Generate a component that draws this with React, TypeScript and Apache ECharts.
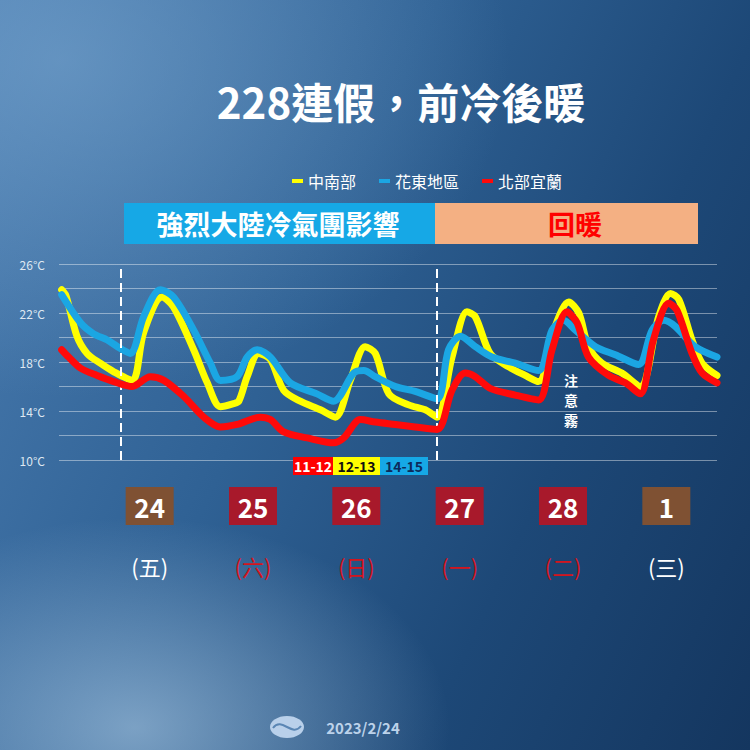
import React, { useEffect, useRef } from "react";
import * as echarts from "echarts";

const FONT = '"Noto Sans CJK TC", "Noto Sans", sans-serif';

const TITLE = "228連假，前冷後暖";
const SERIES_NAMES = ["中南部", "花東地區", "北部宜蘭"];
const SERIES_COLORS = ["#ffff00", "#1ba6e3", "#ff0a0a"];

// x = hours from 2/24 00:00, y = °C
const central: number[][] = [
  [-13.4, 23.9], [-12.4, 23.4], [-9.9, 20.1], [-7.6, 18.7], [-4.6, 17.9], [-1.5, 17.2],
  [2.7, 16.5], [5.3, 20.4], [9.5, 23.3], [12.1, 22.5], [16.7, 19.0], [19.8, 16.3],
  [22.8, 14.35], [25.8, 14.6], [27, 14.8], [28.9, 16.8], [31.5, 18.7], [34.2, 18.2],
  [37.2, 15.7], [41, 14.8], [45.6, 14.1], [49, 13.5], [52.4, 16.5], [55.8, 19.25],
  [58.1, 18.7], [61.2, 15.4], [65.7, 14.5], [69.5, 14.1], [72.2, 13.5], [75.6, 18.4],
  [79, 22.1], [80.9, 21.7], [84.3, 18.7], [88.5, 17.6], [92.3, 16.9], [95.3, 16.4],
  [99.1, 20.9], [102.2, 22.9], [104.5, 22.0], [106.7, 19.25], [109.8, 17.9], [114.3, 17.1],
  [118.5, 16.0], [122.7, 21.7], [125.4, 23.6], [127.3, 23.1], [130.3, 19.8], [132.6, 17.9],
  [136, 16.9],
];
const east: number[][] = [
  [-13.4, 23.5], [-9.1, 21.2], [-6.1, 20.3], [-3, 19.8], [0, 19.1], [2.3, 18.7],
  [5.3, 21.7], [9.1, 23.9], [12.1, 23.3], [16.7, 20.6], [20.5, 17.9], [22.8, 16.5],
  [26.6, 16.8], [28.9, 18.4], [31.2, 19.0], [34.2, 18.4], [38.7, 16.3], [44.8, 15.4],
  [48.6, 14.8], [53.2, 17.1], [55.5, 17.3], [58.1, 16.8], [62.7, 16.0], [67.2, 15.6],
  [72.2, 15.0], [74.8, 19.0], [77.5, 20.1], [80.9, 19.25], [84.7, 18.4], [90, 17.9],
  [95.3, 17.3], [98.4, 20.6], [101, 21.4], [103.7, 20.6], [108.3, 19.25], [112.8, 18.6],
  [118.1, 17.8], [121.2, 20.6], [123.8, 21.4], [126.5, 20.9], [131, 19.25], [136, 18.4],
];
const north: number[][] = [
  [-13.4, 19.0], [-11.8, 18.4], [-9.1, 17.5], [-5.3, 16.9], [-1.5, 16.4], [2.7, 16.0],
  [6.8, 16.8], [9.9, 16.5], [14.4, 15.2], [19, 13.5], [22.8, 12.7], [26.6, 12.9],
  [31.9, 13.5], [34.2, 13.3], [37.2, 12.3], [42.6, 11.8], [48.6, 11.4], [50.9, 11.8],
  [54.7, 13.3], [58.1, 13.1], [62.7, 12.9], [67.2, 12.7], [72.2, 12.5], [75.6, 15.7],
  [78.6, 17.1], [80.9, 16.8], [84.3, 15.85], [90, 15.3], [95.3, 14.9], [98.4, 19.0],
  [101.8, 22.1], [104.1, 21.2], [106.7, 18.4], [111.3, 16.9], [115.1, 16.3], [118.5, 15.4],
  [121.5, 19.8], [125, 22.8], [126.9, 22.2], [130.3, 18.7], [132.6, 17.1], [136, 16.3],
];
const SERIES_DATA = [central, east, north];

const Y_MIN = 10;
const Y_MAX = 26;
const Y_STEP = 2;
const Y_LABEL_STEP = 4;
const X_MIN = -14;
const X_MAX = 136;
const DAY_BREAKS = [0, 72];

const DAYS = ["24", "25", "26", "27", "28", "1"];
const DAY_KIND = ["b", "r", "r", "r", "r", "b"];
const WEEKDAYS = ["(五)", "(六)", "(日)", "(一)", "(二)", "(三)"];
const WEEKDAY_KIND = ["w", "r", "r", "r", "r", "w"];

const PERIODS = ["強烈大陸冷氣團影響", "回暖"];
const LOW_RANGES = ["11-12", "12-13", "14-15"];
const FOG_NOTE = "注意霧";
const DATE_TEXT = "2023/2/24";

export default function App() {
  const ref = useRef<HTMLDivElement>(null);

  useEffect(() => {
    document.body.style.margin = "0";
    const chart = echarts.init(ref.current!, null, { renderer: "svg" });

    const lineSeries = SERIES_NAMES.map((name, i) => ({
      name,
      type: "line",
      xAxisIndex: 0,
      yAxisIndex: 0,
      data: SERIES_DATA[i],
      smooth: 0.3,
      symbol: "none",
      color: SERIES_COLORS[i],
      itemStyle: { color: SERIES_COLORS[i] },
      lineStyle: { color: SERIES_COLORS[i], width: 7, cap: "round", join: "round" },
      z: 3 + i,
      markLine:
        i === 0
          ? {
              silent: true,
              symbol: ["none", "none"],
              label: { show: false },
              lineStyle: { color: "#ffffff", type: [9, 5], width: 2 },
              data: DAY_BREAKS.map((h) => ({ xAxis: h })),
            }
          : undefined,
    }));

    const periodColors = [
      { bg: "#16a8e6", fg: "#ffffff" },
      { bg: "#f4b083", fg: "#ff0000" },
    ];
    const periodX = [
      [124, 435],
      [435, 698],
    ];
    const lowColors = [
      { bg: "#ff0000", fg: "#ffffff" },
      { bg: "#ffff00", fg: "#111111" },
      { bg: "#16a8e6", fg: "#0d2a5a" },
    ];
    const lowX = [
      [293, 333],
      [333, 380],
      [380, 428],
    ];

    const graphic: any[] = [
      {
        type: "text",
        x: 401,
        y: 100,
        style: {
          text: TITLE,
          fill: "#ffffff",
          font: `bold 42px ${FONT}`,
          textAlign: "center",
          textVerticalAlign: "middle",
        },
      },
    ];
    PERIODS.forEach((p, i) => {
      graphic.push({
        type: "rect",
        shape: { x: periodX[i][0], y: 203, width: periodX[i][1] - periodX[i][0], height: 41 },
        style: { fill: periodColors[i].bg },
      });
      graphic.push({
        type: "text",
        x: i === 0 ? 278 : 575,
        y: 223,
        style: {
          text: p,
          fill: periodColors[i].fg,
          font: `bold 27px ${FONT}`,
          textAlign: "center",
          textVerticalAlign: "middle",
        },
      });
    });
    LOW_RANGES.forEach((t, i) => {
      graphic.push({
        type: "rect",
        shape: { x: lowX[i][0], y: 457, width: lowX[i][1] - lowX[i][0], height: 18 },
        style: { fill: lowColors[i].bg },
        z: 10,
      });
      graphic.push({
        type: "text",
        x: (lowX[i][0] + lowX[i][1]) / 2,
        y: 466,
        z: 11,
        style: {
          text: t,
          fill: lowColors[i].fg,
          font: `bold 14px ${FONT}`,
          textAlign: "center",
          textVerticalAlign: "middle",
        },
      });
    });
    FOG_NOTE.split("").forEach((ch, i) => {
      graphic.push({
        type: "text",
        x: 571,
        y: 380 + i * 20,
        z: 10,
        style: {
          text: ch,
          fill: "#ffffff",
          font: `bold 14px ${FONT}`,
          textAlign: "center",
          textVerticalAlign: "middle",
        },
      });
    });
    graphic.push({
      type: "ellipse",
      shape: { cx: 287, cy: 727, rx: 17, ry: 11 },
      style: { fill: "#b9d0ea" },
    });
    graphic.push({
      type: "bezierCurve",
      shape: { x1: 273, y1: 728, x2: 301, y2: 726, cpx1: 282, cpy1: 716, cpx2: 292, cpy2: 738 },
      style: { stroke: "#5a86b4", lineWidth: 2, fill: "none" },
    });
    graphic.push({
      type: "text",
      x: 363,
      y: 727,
      style: {
        text: DATE_TEXT,
        fill: "#bcd2ea",
        font: `bold 15px ${FONT}`,
        textAlign: "center",
        textVerticalAlign: "middle",
      },
    });

    const option: any = {
      animation: false,
      backgroundColor: "transparent",
      textStyle: { fontFamily: FONT },
      legend: {
        data: SERIES_NAMES,
        left: 287,
        top: 168,
        icon: "rect",
        itemWidth: 11,
        itemHeight: 4,
        itemGap: 23,
        itemStyle: { borderWidth: 0 },
        lineStyle: { width: 0, opacity: 0 },
        textStyle: { color: "#ffffff", fontSize: 16, fontFamily: FONT },
      },
      grid: [
        { left: 59, right: 33, top: 264, height: 196 },
        { left: 98, right: 32, top: 525, height: 28 },
      ],
      xAxis: [
        {
          type: "value",
          gridIndex: 0,
          min: X_MIN,
          max: X_MAX,
          show: false,
        },
        {
          type: "category",
          gridIndex: 1,
          position: "top",
          data: DAYS,
          axisLine: { show: false },
          axisTick: { show: false },
          splitLine: { show: false },
          axisLabel: {
            margin: 0,
            interval: 0,
            formatter: (v: string, idx: number) => `{${DAY_KIND[idx]}|${v}}`,
            rich: {
              b: {
                backgroundColor: "#7f5133",
                color: "#ffffff",
                fontSize: 26,
                fontWeight: "bold",
                fontFamily: FONT,
                width: 48,
                height: 38,
                lineHeight: 38,
                align: "center",
              },
              r: {
                backgroundColor: "#a8192b",
                color: "#ffffff",
                fontSize: 26,
                fontWeight: "bold",
                fontFamily: FONT,
                width: 48,
                height: 38,
                lineHeight: 38,
                align: "center",
              },
            },
          },
        },
        {
          type: "category",
          gridIndex: 1,
          position: "bottom",
          data: WEEKDAYS,
          axisLine: { show: false },
          axisTick: { show: false },
          splitLine: { show: false },
          axisLabel: {
            margin: 2,
            interval: 0,
            formatter: (v: string, idx: number) => `{${WEEKDAY_KIND[idx]}|${v}}`,
            rich: {
              w: { color: "#ffffff", fontSize: 22, fontFamily: FONT },
              r: { color: "#d4141c", fontSize: 22, fontFamily: FONT },
            },
          },
        },
      ],
      yAxis: [
        {
          type: "value",
          gridIndex: 0,
          min: Y_MIN,
          max: Y_MAX,
          interval: Y_STEP,
          axisLine: { show: false },
          axisTick: { show: false },
          axisLabel: {
            color: "#dfe8f2",
            fontSize: 12,
            margin: 14,
            fontFamily: FONT,
            formatter: (v: number) => ((v - Y_MIN) % Y_LABEL_STEP === 0 ? `${v}°C` : ""),
          },
          splitLine: { lineStyle: { color: "rgba(255,255,255,0.42)", width: 1 } },
        },
        { type: "value", gridIndex: 1, show: false },
      ],
      series: lineSeries,
      graphic,
    };

    chart.setOption(option);
    return () => chart.dispose();
  }, []);

  return (
    <div
      style={{
        width: 750,
        height: 750,
        background:
          "radial-gradient(ellipse 42% 28% at 18% 97%, rgba(175,205,230,0.6), rgba(175,205,230,0) 100%)," +
          "radial-gradient(ellipse 60% 45% at 8% 8%, rgba(125,170,210,0.55), rgba(125,170,210,0) 100%)," +
          "linear-gradient(115deg, #4a7cb0 0%, #2f6194 40%, #1d4877 70%, #14365f 100%)",
      }}
    >
      <div ref={ref} style={{ width: 750, height: 750 }} />
    </div>
  );
}
